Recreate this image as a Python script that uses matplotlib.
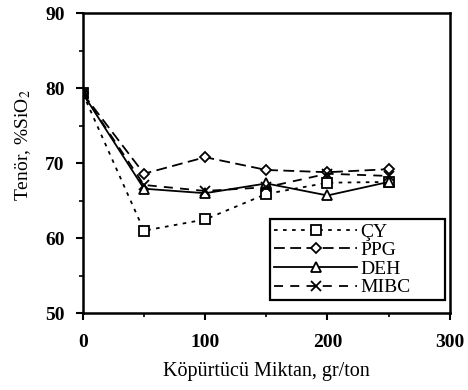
import numpy as np
import matplotlib; matplotlib.use("Agg")
import matplotlib.pyplot as plt
from matplotlib.ticker import MultipleLocator

x = [0, 50, 100, 150, 200, 250]
cy   = [79.3, 61.0, 62.5, 65.9, 67.4, 67.5]
ppg  = [79.3, 68.6, 70.8, 69.1, 68.8, 69.2]
deh  = [79.3, 66.6, 66.0, 67.3, 65.7, 67.5]
mibc = [79.3, 67.1, 66.3, 66.8, 68.6, 68.3]

plt.rcParams['font.family'] = ['Liberation Serif', 'DejaVu Serif']
plt.rcParams['mathtext.fontset'] = 'stix'

fig = plt.figure(figsize=(4.68, 3.9), dpi=100)
ax = fig.add_axes([0.177, 0.197, 0.784, 0.769])

kw = dict(color="k", mfc="white", mec="k", lw=1.3, mew=1.3)
ax.plot(x, cy, ls=(0, (2, 3)), marker="s", ms=7, label="ÇY", **kw)
ax.plot(x, ppg, ls=(0, (6, 3)), marker="D", ms=5.5, label="PPG", **kw)
ax.plot(x, deh, ls="-", marker="^", ms=6.5, label="DEH", **kw)
ax.plot(x, mibc, ls=(0, (5, 4)), marker="x", ms=7, label="MIBC", **kw)

ax.set_xlim(0, 300)
ax.set_ylim(50, 90)
ax.xaxis.set_major_locator(MultipleLocator(100))
ax.xaxis.set_minor_locator(MultipleLocator(50))
ax.yaxis.set_major_locator(MultipleLocator(10))
ax.yaxis.set_minor_locator(MultipleLocator(5))
ax.tick_params(which="major", direction="out", length=5, width=1.5, labelsize=14)
ax.tick_params(which="minor", direction="out", length=3, width=1.2)
ax.tick_params(axis="x", which="major", pad=10)
ax.tick_params(axis="y", which="major", pad=8)
for lab in ax.get_xticklabels() + ax.get_yticklabels():
    lab.set_fontweight("bold")
for s in ax.spines.values():
    s.set_linewidth(1.8)

ax.set_xlabel("Köpürtücü Miktan, gr/ton", fontsize=14.5, labelpad=8)
ax.set_ylabel("Tenör, %SiO$_2$", fontsize=14)
ax.yaxis.set_label_coords(-0.135, 0.56)

leg = ax.legend(loc="lower left", bbox_to_anchor=(0.51, 0.043, 0.477, 0.29), mode="expand",
                handlelength=4.3, fontsize=14, fancybox=False, edgecolor="k", framealpha=1,
                borderpad=0.2, labelspacing=0.05, handletextpad=0.15, borderaxespad=0)
leg.get_frame().set_linewidth(1.6)

fig.savefig("out.png", dpi=100)
